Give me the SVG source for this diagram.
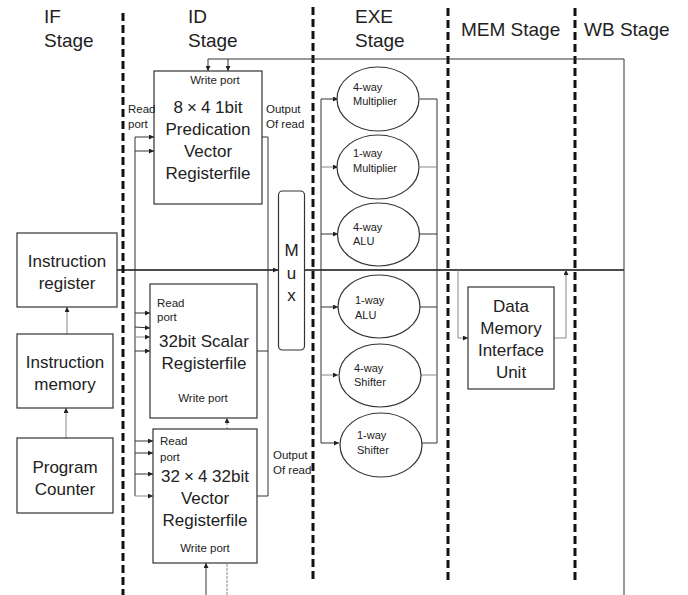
<svg xmlns="http://www.w3.org/2000/svg" width="688" height="595" viewBox="0 0 688 595">
<style>
text{font-family:"Liberation Sans","Noto Sans",Arial,sans-serif;fill:#222}
.hd{font-size:19px}
.bx{font-size:17px;text-anchor:middle}
.sm{font-size:11.5px}
.smc{font-size:11.5px;text-anchor:middle}
.el{font-size:11px}
.box{fill:#fff;stroke:#333;stroke-width:1.2}
.stage{stroke:#111;stroke-width:3;stroke-dasharray:8 4;fill:none}
.w{stroke:#333;stroke-width:1;fill:none}
.g{stroke:#888;stroke-width:1;fill:none}
.dk{stroke:#111;stroke-width:1.3;fill:none}
</style>
<defs>
<marker id="ah" viewBox="0 0 6 6" refX="6" refY="3" markerWidth="5" markerHeight="5" orient="auto" markerUnits="userSpaceOnUse"><path d="M0,0 L6,3 L0,6 z" fill="#222"/></marker>
</defs>
<rect width="688" height="595" fill="#fff"/>

<g id="stages">
<line class="stage" x1="123" y1="13" x2="123" y2="595"/>
<line class="stage" x1="313" y1="7" x2="313" y2="582"/>
<line class="stage" x1="448" y1="8" x2="448" y2="582"/>
<line class="stage" x1="575" y1="8" x2="575" y2="582"/>
<text class="hd" x="44" y="23">IF</text>
<text class="hd" x="44" y="47">Stage</text>
<text class="hd" x="188" y="23">ID</text>
<text class="hd" x="188" y="47">Stage</text>
<text class="hd" x="355" y="23">EXE</text>
<text class="hd" x="355" y="47">Stage</text>
<text class="hd" x="461" y="36">MEM Stage</text>
<text class="hd" x="584" y="36">WB Stage</text>
</g>

<g id="connectors">
<line class="g" x1="66" y1="438" x2="66" y2="408" marker-end="url(#ah)"/>
<line class="g" x1="67" y1="334" x2="67" y2="307" marker-end="url(#ah)"/>
<line class="dk" x1="117" y1="270" x2="278" y2="270" marker-end="url(#ah)"/>
<line class="dk" x1="305" y1="270" x2="624" y2="270"/>
<polyline class="w" points="624,595 624,59 208,59 208,71" marker-end="url(#ah)"/>
<line class="w" x1="228" y1="59" x2="228" y2="71" marker-end="url(#ah)"/>
<line class="w" x1="135" y1="137" x2="135" y2="496"/>
<line class="w" x1="135" y1="137" x2="154" y2="137" marker-end="url(#ah)"/>
<line class="w" x1="135" y1="151" x2="154" y2="151" marker-end="url(#ah)"/>
<line class="w" x1="135" y1="313" x2="150" y2="313" marker-end="url(#ah)"/>
<line class="w" x1="135" y1="327" x2="150" y2="328" marker-end="url(#ah)"/>
<line class="g" x1="135" y1="337" x2="150" y2="337" marker-end="url(#ah)"/>
<line class="w" x1="135" y1="351" x2="150" y2="351" marker-end="url(#ah)"/>
<line class="w" x1="135" y1="441" x2="153" y2="441" marker-end="url(#ah)"/>
<line class="w" x1="135" y1="453" x2="153" y2="453" marker-end="url(#ah)"/>
<line class="w" x1="135" y1="474" x2="153" y2="474" marker-end="url(#ah)"/>
<line class="g" x1="135" y1="496" x2="153" y2="496" marker-end="url(#ah)"/>
<polyline class="w" points="262,137 268,137 268,496 257,496"/>
<line class="w" x1="257" y1="351" x2="268" y2="351"/>
<line class="g" x1="227" y1="429" x2="227" y2="418" stroke-dasharray="2 2" marker-end="url(#ah)"/>
<line class="w" x1="206" y1="595" x2="206" y2="563" marker-end="url(#ah)"/>
<line class="g" x1="227" y1="595" x2="227" y2="563" stroke-dasharray="3 1"/>
<line class="w" x1="321" y1="99" x2="321" y2="443"/>
<line class="w" x1="321" y1="99" x2="338" y2="99" marker-end="url(#ah)"/>
<line class="g" x1="321" y1="167" x2="338" y2="167" marker-end="url(#ah)"/>
<line class="w" x1="321" y1="234" x2="338" y2="234" marker-end="url(#ah)"/>
<line class="w" x1="321" y1="307" x2="338" y2="307" marker-end="url(#ah)"/>
<line class="g" x1="321" y1="375" x2="338" y2="375" marker-end="url(#ah)"/>
<line class="w" x1="321" y1="443" x2="339" y2="443" marker-end="url(#ah)"/>
<line class="w" x1="437" y1="99" x2="437" y2="443"/>
<line class="w" x1="420" y1="99" x2="437" y2="99"/>
<line class="g" x1="420" y1="167" x2="437" y2="167"/>
<line class="w" x1="420" y1="234" x2="437" y2="234"/>
<line class="w" x1="420" y1="307" x2="437" y2="307"/>
<line class="g" x1="420" y1="375" x2="437" y2="375"/>
<line class="w" x1="421" y1="443" x2="437" y2="443"/>
<polyline class="g" points="458,270 458,338 468,338" marker-end="url(#ah)"/>
<polyline class="g" points="554,338 566,338 566,270" marker-end="url(#ah)"/>
</g>

<g id="instruction-register">
<rect class="box" x="17" y="233" width="100" height="74"/>
<text class="bx" x="67" y="267">Instruction</text>
<text class="bx" x="67" y="289">register</text>
</g>
<g id="instruction-memory">
<rect class="box" x="17" y="334" width="96" height="74"/>
<text class="bx" x="65" y="368">Instruction</text>
<text class="bx" x="65" y="390">memory</text>
</g>
<g id="program-counter">
<rect class="box" x="17" y="438" width="96" height="75"/>
<text class="bx" x="65" y="473">Program</text>
<text class="bx" x="65" y="495">Counter</text>
</g>

<g id="predication-regfile">
<rect class="box" x="154" y="71" width="108" height="133"/>
<text class="smc" x="215" y="84">Write port</text>
<text class="bx" x="208" y="113">8<tspan dx="4">×</tspan><tspan dx="4">4 1bit</tspan></text>
<text class="bx" x="208" y="135">Predication</text>
<text class="bx" x="208" y="157">Vector</text>
<text class="bx" x="208" y="179">Registerfile</text>
<text class="sm" x="128" y="113">Read</text>
<text class="sm" x="128" y="128">port</text>
<text class="sm" x="266" y="113">Output</text>
<text class="sm" x="266" y="128">Of read</text>
</g>

<g id="scalar-regfile">
<rect class="box" x="150" y="284" width="107" height="134"/>
<text class="sm" x="157" y="307">Read</text>
<text class="sm" x="157" y="321">port</text>
<text class="bx" x="204" y="347">32bit Scalar</text>
<text class="bx" x="204" y="369">Registerfile</text>
<text class="smc" x="203" y="402">Write port</text>
</g>

<g id="vector-regfile">
<rect class="box" x="153" y="429" width="104" height="134"/>
<text class="sm" x="160" y="445">Read</text>
<text class="sm" x="160" y="461">port</text>
<text class="bx" x="205" y="482">32<tspan dx="4">×</tspan><tspan dx="4">4 32bit</tspan></text>
<text class="bx" x="205" y="504">Vector</text>
<text class="bx" x="205" y="526">Registerfile</text>
<text class="smc" x="205" y="552">Write port</text>
<text class="sm" x="273" y="459">Output</text>
<text class="sm" x="273" y="474">Of read</text>
</g>

<g id="mux">
<rect x="278.5" y="191" width="26" height="159" rx="4" fill="#fff" stroke="#333" stroke-width="1.2"/>
<text class="bx" x="291.5" y="256">M</text>
<text class="bx" x="291.5" y="279">u</text>
<text class="bx" x="291.5" y="301">x</text>
</g>

<g id="mul4">
<ellipse class="box" cx="378" cy="99" rx="41" ry="32"/>
<text class="el" x="353" y="91">4-way</text>
<text class="el" x="353" y="105">Multiplier</text>
</g>
<g id="mul1">
<ellipse class="box" cx="378" cy="167" rx="41" ry="32"/>
<text class="el" x="353" y="157">1-way</text>
<text class="el" x="353" y="172">Multiplier</text>
</g>
<g id="alu4">
<ellipse class="box" cx="378.5" cy="234.5" rx="41" ry="31.5"/>
<text class="el" x="353" y="231">4-way</text>
<text class="el" x="353" y="245">ALU</text>
</g>
<g id="alu1">
<ellipse class="box" cx="379" cy="306.5" rx="41" ry="31.5"/>
<text class="el" x="355" y="304">1-way</text>
<text class="el" x="355" y="319">ALU</text>
</g>
<g id="shift4">
<ellipse class="box" cx="380" cy="375.5" rx="41" ry="31.5"/>
<text class="el" x="354" y="372">4-way</text>
<text class="el" x="354" y="386">Shifter</text>
</g>
<g id="shift1">
<ellipse class="box" cx="381" cy="445" rx="41" ry="32"/>
<text class="el" x="357" y="439">1-way</text>
<text class="el" x="357" y="454">Shifter</text>
</g>

<g id="dmiu">
<rect class="box" x="468" y="287" width="86" height="102"/>
<text class="bx" x="511" y="312">Data</text>
<text class="bx" x="511" y="334">Memory</text>
<text class="bx" x="511" y="356">Interface</text>
<text class="bx" x="511" y="378">Unit</text>
</g>
</svg>
